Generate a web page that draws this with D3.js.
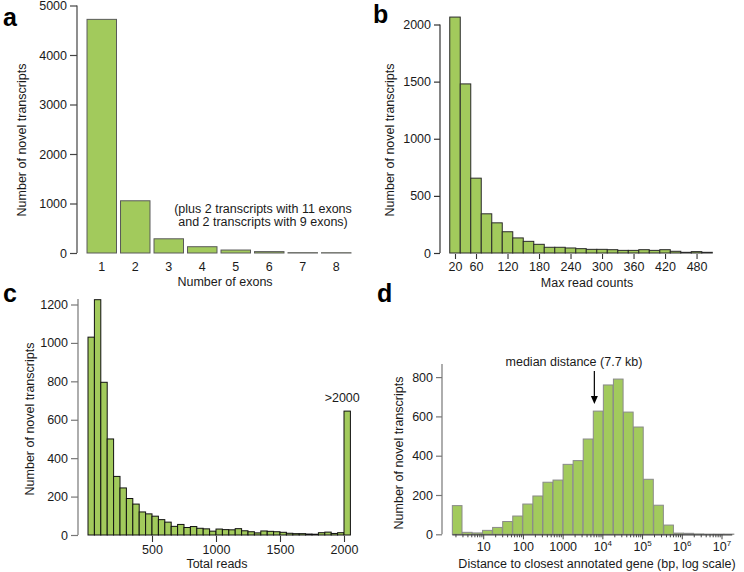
<!DOCTYPE html>
<html>
<head>
<meta charset="utf-8">
<script src="https://cdn.jsdelivr.net/npm/d3@7"></script>
<style>
body { margin: 0; background: #fff; }
</style>
</head>
<body>
<script>
var FONT = "'Liberation Sans', Arial, Helvetica, sans-serif";

// a: number of exons
var exons = ["1", "2", "3", "4", "5", "6", "7", "8"];
var exonCounts = [4720, 1055, 287, 127, 60, 28, 6, 5];
var exonTicks = [0, 1000, 2000, 3000, 4000, 5000];

// b: max read counts, bins of 20 starting at 10
var maxReadCounts = [2065, 1480, 655, 343, 264, 186, 132, 102, 76, 50, 50, 44, 38, 32, 32, 29, 23, 23, 29, 23, 29, 15, 6, 12, 6];
var maxReadTicks = [20, 60, 120, 180, 240, 300, 360, 420, 480];
var maxReadYTicks = [0, 500, 1000, 1500, 2000];

// c: total reads, bins of 50, last bar is >2000
var totalReadCounts = [1030, 1225, 795, 500, 305, 245, 190, 161, 120, 110, 98, 80, 67, 45, 55, 39, 44, 35, 32, 20,
  31, 28, 27, 33, 22, 17, 11, 21, 19, 17, 14, 9, 7, 7, 5, 4, 12, 15, 8, 12];
var totalOver2000 = 645;
var totalReadTicks = [500, 1000, 1500, 2000];
var totalReadYTicks = [0, 200, 400, 600, 800, 1000, 1200];

// d: distance to closest annotated gene (log10 bins)
var distCounts = [146, 10, 7, 20, 35, 65, 93, 154, 195, 265, 276, 356, 375, 485, 627, 760, 790, 622, 546, 280,
  148, 47, 6, 5, 2, 1, 1, 1];
var distTicks = [10, 100, 1000, 1e4, 1e5, 1e6, 1e7];
var distTickLabels = [["10", ""], ["100", ""], ["1000", ""], ["10", "4"], ["10", "5"], ["10", "6"], ["10", "7"]];
var distYTicks = [0, 200, 400, 600, 800];
var medianDistance = 7700;

var green = "#a2ca5c";
var ink = "#1a1a1a";
var fmt = d3.format("d");

var svg = d3.select("body").append("svg")
  .attr("width", 744)
  .attr("height", 572)
  .style("font-family", FONT);

var panelLabel = function(t, x, y) {
  svg.append("text").attr("x", x).attr("y", y)
    .attr("font-size", 25).attr("font-weight", "bold").attr("fill", "#000")
    .text(t);
};

var yTitle = function(t, x, y) {
  svg.append("text")
    .attr("transform", "translate(" + x + "," + y + ") rotate(-90)")
    .attr("text-anchor", "middle").attr("dy", "0.35em")
    .attr("font-size", 12.5).attr("fill", ink)
    .text(t);
};

var xTitle = function(t, x, y) {
  svg.append("text").attr("x", x).attr("y", y)
    .attr("text-anchor", "middle").attr("dy", "0.35em")
    .attr("font-size", 12.5).attr("fill", ink)
    .text(t);
};

var yAxis = function(scale, ticks, x, size, top, color) {
  var g = svg.append("g").attr("transform", "translate(" + x + ",0)")
    .call(d3.axisLeft(scale).tickValues(ticks).tickFormat(fmt)
      .tickSize(size).tickPadding(3).tickSizeOuter(0));
  g.select(".domain").remove();
  g.append("line")
    .attr("y1", top).attr("y2", scale(0))
    .attr("stroke", color).attr("stroke-width", 1.2);
  g.attr("font-family", FONT).attr("font-size", 12.5);
  g.selectAll(".tick line").attr("stroke", color).attr("stroke-width", 1.2);
  g.selectAll(".tick text").attr("fill", ink);
  return g;
};

var xAxis = function(scale, ticks, y, size) {
  var g = svg.append("g").attr("transform", "translate(0," + y + ")")
    .call(d3.axisBottom(scale).tickValues(ticks).tickFormat(fmt)
      .tickSize(size).tickPadding(3).tickSizeOuter(0));
  g.select(".domain").remove();
  g.attr("font-family", FONT).attr("font-size", 12.5);
  g.selectAll(".tick line").attr("stroke", "#333").attr("stroke-width", 1.1);
  g.selectAll(".tick text").attr("fill", ink);
  return g;
};

// ---------- panel a ----------
var ax = d3.scaleBand().domain(exons).range([83, 355]).padding(0.12);
var ay = d3.scaleLinear().domain([0, 5000]).range([253, 5.5]);

svg.append("g").selectAll("rect")
  .data(exonCounts)
  .enter().append("rect")
  .attr("x", function(d, i) { return ax(exons[i]); })
  .attr("width", ax.bandwidth())
  .attr("y", function(d) { return ay(d); })
  .attr("height", function(d) { return ay(0) - ay(d); })
  .attr("fill", green)
  .attr("stroke", "#5a5a5a")
  .attr("stroke-width", 1);

yAxis(ay, exonTicks, 77, 7, ay(5000), "#444");

svg.append("g").selectAll("text")
  .data(exons)
  .enter().append("text")
  .attr("x", function(d) { return ax(d) + ax.bandwidth() / 2; })
  .attr("y", 267).attr("dy", "0.35em")
  .attr("text-anchor", "middle").attr("font-size", 12.5).attr("fill", ink)
  .text(function(d) { return d; });

xTitle("Number of exons", 225, 282);
yTitle("Number of novel transcripts", 22, 140);
svg.append("text").attr("x", 263).attr("y", 209).attr("dy", "0.35em")
  .attr("text-anchor", "middle").attr("font-size", 12.5).attr("fill", ink)
  .text("(plus 2 transcripts with 11 exons");
svg.append("text").attr("x", 263).attr("y", 222).attr("dy", "0.35em")
  .attr("text-anchor", "middle").attr("font-size", 12.5).attr("fill", ink)
  .text("and 2 transcripts with 9 exons)");
panelLabel("a", 3, 26);

// ---------- panel b ----------
var bx = d3.scaleLinear().domain([0, 510]).range([444.5, 712.3]);
var by = d3.scaleLinear().domain([0, 2000]).range([253, 24.5]);
var bBins = d3.range(10, 510, 20);

svg.append("g").selectAll("rect")
  .data(maxReadCounts)
  .enter().append("rect")
  .attr("x", function(d, i) { return bx(bBins[i]); })
  .attr("width", bx(30) - bx(10))
  .attr("y", function(d) { return by(d); })
  .attr("height", function(d) { return by(0) - by(d); })
  .attr("fill", green)
  .attr("stroke", "#2a2a2a")
  .attr("stroke-width", 1);

yAxis(by, maxReadYTicks, 440, 6, by(2000), "#333");
xAxis(bx, maxReadTicks, 254, 5);

xTitle("Max read counts", 587, 283);
yTitle("Number of novel transcripts", 390, 140);
panelLabel("b", 373, 23);

// ---------- panel c ----------
var cx = d3.scaleLinear().domain([0, 2000]).range([88, 344]);
var cy = d3.scaleLinear().domain([0, 1200]).range([535, 304.5]);
var cBins = d3.range(0, 2000, 50);
var cData = totalReadCounts.concat([totalOver2000]);
var cStarts = cBins.concat([2000]);

svg.append("g").selectAll("rect")
  .data(cData)
  .enter().append("rect")
  .attr("x", function(d, i) { return cx(cStarts[i]); })
  .attr("width", cx(50) - cx(0))
  .attr("y", function(d) { return cy(d); })
  .attr("height", function(d) { return cy(0) - cy(d); })
  .attr("fill", green)
  .attr("stroke", "#111")
  .attr("stroke-width", 1);

yAxis(cy, totalReadYTicks, 78, 7, 299, "#777");
xAxis(cx, totalReadTicks, 536, 6);

svg.append("text")
  .attr("x", cx(2000) + (cx(50) - cx(0)) / 2 - 5).attr("y", cy(totalOver2000) - 13).attr("dy", "0.35em")
  .attr("text-anchor", "middle").attr("font-size", 12.5).attr("fill", ink)
  .text(">2000");

xTitle("Total reads", 217, 564);
yTitle("Number of novel transcripts", 30, 419);
panelLabel("c", 3, 302);

// ---------- panel d ----------
var dx = d3.scaleLog().domain([1, 1e7]).range([444, 722]);
var dy = d3.scaleLinear().domain([0, 800]).range([534.3, 377.1]);
var dStart = 0.21, dStep = 0.2535;
var dEdges = d3.range(distCounts.length + 1).map(function(i) { return Math.pow(10, dStart + i * dStep); });

svg.append("g").selectAll("rect")
  .data(distCounts)
  .enter().append("rect")
  .attr("x", function(d, i) { return dx(dEdges[i]); })
  .attr("width", function(d, i) { return dx(dEdges[i + 1]) - dx(dEdges[i]) - 0.4; })
  .attr("y", function(d) { return dy(d); })
  .attr("height", function(d) { return dy(0) - dy(d); })
  .attr("fill", green)
  .attr("stroke", "#8a8a8a")
  .attr("stroke-width", 1);

yAxis(dy, distYTicks, 442, 6, 364, "#777");

var x0 = dx(dEdges[0]), x1 = dx(dEdges[dEdges.length - 1]) - 2;
svg.append("line")
  .attr("x1", x0).attr("x2", x1).attr("y1", dy(0) + 0.5).attr("y2", dy(0) + 0.5)
  .attr("stroke", "#444").attr("stroke-width", 1.2);

var minor = [];
for (var k = 0; k < 7; k++) {
  for (var m = 2; m < 10; m++) {
    var v = m * Math.pow(10, k);
    if (dx(v) >= x0 && dx(v) <= x1) minor.push(v);
  }
}
svg.append("g").selectAll("line")
  .data(minor)
  .enter().append("line")
  .attr("x1", function(d) { return dx(d); }).attr("x2", function(d) { return dx(d); })
  .attr("y1", dy(0)).attr("y2", dy(0) + 3)
  .attr("stroke", "#444");
svg.append("g").selectAll("line")
  .data(distTicks)
  .enter().append("line")
  .attr("x1", function(d) { return dx(d); }).attr("x2", function(d) { return dx(d); })
  .attr("y1", dy(0)).attr("y2", dy(0) + 5)
  .attr("stroke", "#444");

var dl = svg.append("g").selectAll("text")
  .data(distTicks)
  .enter().append("text")
  .attr("x", function(d) { return dx(d); })
  .attr("y", 551)
  .attr("text-anchor", "middle").attr("font-size", 12.5).attr("fill", ink);
dl.append("tspan").text(function(d, i) { return distTickLabels[i][0]; });
dl.append("tspan")
  .attr("font-size", 8).attr("dy", -5)
  .text(function(d, i) { return distTickLabels[i][1]; });

var mx = dx(medianDistance) - 4;
svg.append("line")
  .attr("x1", mx).attr("x2", mx).attr("y1", 371).attr("y2", 397)
  .attr("stroke", "#000").attr("stroke-width", 1.2);
svg.append("path")
  .attr("d", "M" + (mx - 3.5) + ",396 L" + (mx + 3.5) + ",396 L" + mx + ",404 Z")
  .attr("fill", "#000");
svg.append("text").attr("x", 574).attr("y", 362).attr("dy", "0.35em")
  .attr("text-anchor", "middle").attr("font-size", 12.5).attr("fill", ink)
  .text("median distance (7.7 kb)");

xTitle("Distance to closest annotated gene (bp, log scale)", 597, 564);
yTitle("Number of novel transcripts", 399, 453);
panelLabel("d", 377, 302);
</script>
</body>
</html>
